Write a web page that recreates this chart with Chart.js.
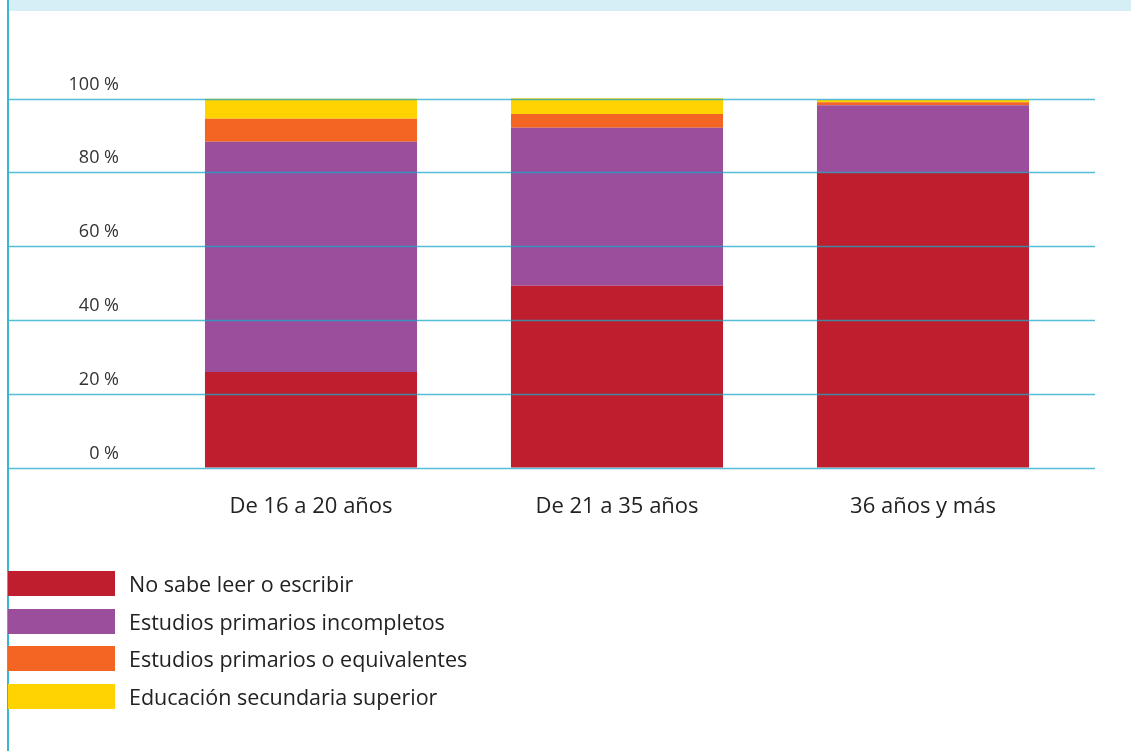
<!DOCTYPE html>
<html>
<head>
<meta charset="utf-8">
<script src="https://cdn.jsdelivr.net/npm/chart.js@4.4.0/dist/chart.umd.min.js"></script>
<style>
  html, body { margin: 0; padding: 0; background: #fff; }
  #wrap { position: relative; width: 1131px; height: 751px; overflow: hidden; }
  #band { position: absolute; left: 8px; top: 0; width: 1123px; height: 11px; background: #d6eef5; }
  #vline { position: absolute; left: 7px; top: 0; width: 2px; height: 751px; background: #3bb6d2; }
  #chart { position: absolute; left: 0; top: 0; }
  #legend { position: absolute; left: 8px; top: 571px; font-family: "Open Sans", sans-serif; font-size: 21.5px; color: #222; }
  .row { display: flex; align-items: center; height: 25px; margin-bottom: 12.7px; }
  .box { width: 107px; height: 25px; margin-right: 14px; }
</style>
</head>
<body>
<div id="wrap">
  <canvas id="chart" width="1131" height="751"></canvas>
  <div id="band"></div>
  <div id="vline"></div>
  <div id="legend"></div>
</div>
<script>
// data
const categories = ['De 16 a 20 años', 'De 21 a 35 años', '36 años y más'];
const seriesNames = [
  'No sabe leer o escribir',
  'Estudios primarios incompletos',
  'Estudios primarios o equivalentes',
  'Educación secundaria superior'
];
const noSabe = [25.9, 49.3, 80.0];
const primInc = [62.4, 42.8, 18.2];
const primEq = [6.2, 3.7, 0.8];
const secSup = [5.4, 4.3, 0.6];
const yTicks = [0, 20, 40, 60, 80, 100];
const colors = ['#be1e2d', '#9a4e9c', '#f26522', '#fed300'];

const seriesValues = [noSabe, primInc, primEq, secSup];

// grid lines run wider than the bars, so draw them by hand
const gridPlugin = {
  id: 'wideGrid',
  afterDatasetsDraw(chart) {
    const ctx = chart.ctx;
    const y = chart.scales.y;
    ctx.save();
    ctx.strokeStyle = 'rgba(27, 168, 200, 0.75)';
    ctx.lineWidth = 1.5;
    yTicks.forEach(v => {
      const py = Math.round(y.getPixelForValue(v)) + 0.5;
      ctx.beginPath();
      ctx.moveTo(8, py);
      ctx.lineTo(1095, py);
      ctx.stroke();
    });
    ctx.restore();
  }
};

new Chart(document.getElementById('chart').getContext('2d'), {
  type: 'bar',
  data: {
    labels: categories,
    datasets: seriesNames.map((name, i) => ({
      label: name,
      data: seriesValues[i],
      backgroundColor: colors[i],
      borderWidth: 0,
      clip: false,
      categoryPercentage: 1,
      barPercentage: 0.693
    }))
  },
  options: {
    responsive: false,
    animation: false,
    layout: { padding: { left: 8, right: 55, top: 98.5, bottom: 213 } },
    plugins: {
      legend: { display: false },
      tooltip: { enabled: false }
    },
    scales: {
      x: {
        stacked: true,
        grid: { display: false },
        border: { display: false },
        ticks: {
          color: '#222',
          padding: 18,
          font: { family: 'Open Sans', size: 22 }
        }
      },
      y: {
        stacked: true,
        min: 0,
        max: 100,
        afterFit(scale) { scale.width = 150; },
        afterBuildTicks(scale) { scale.ticks = yTicks.map(v => ({ value: v })); },
        grid: { display: false, drawTicks: false },
        border: { display: false },
        ticks: {
          color: '#333',
          padding: 39,
          labelOffset: -14,
          font: { family: 'Open Sans', size: 18 },
          callback: v => v + ' %'
        }
      }
    }
  },
  plugins: [gridPlugin]
});

// legend built from the series arrays
const legend = document.getElementById('legend');
seriesNames.forEach((name, i) => {
  const row = document.createElement('div');
  row.className = 'row';
  const box = document.createElement('div');
  box.className = 'box';
  box.style.background = colors[i];
  const txt = document.createElement('span');
  txt.textContent = name;
  row.appendChild(box);
  row.appendChild(txt);
  legend.appendChild(row);
});
</script>
</body>
</html>
